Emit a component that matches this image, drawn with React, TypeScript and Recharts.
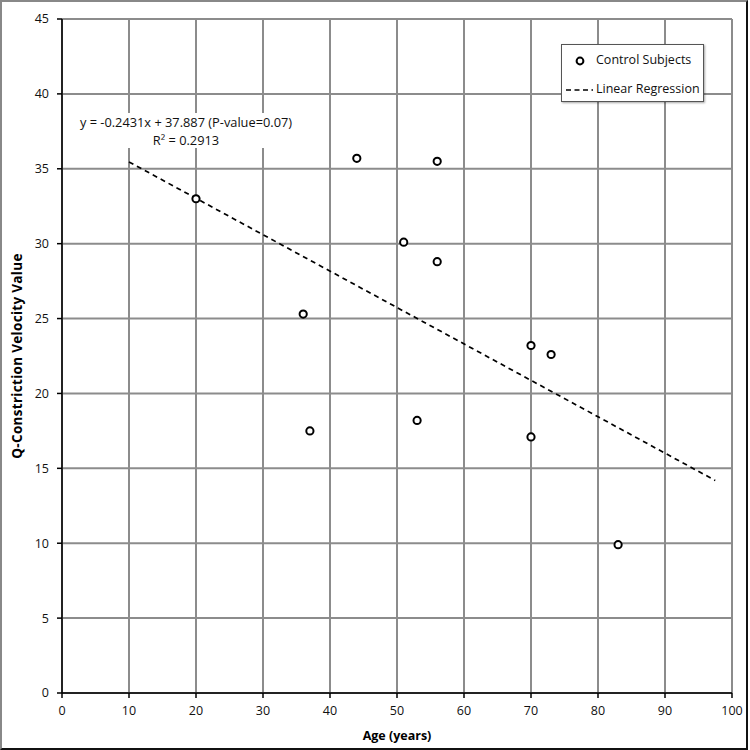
import { ScatterChart, Scatter, XAxis, YAxis, CartesianGrid } from 'recharts';

const ages = [20, 36, 37, 44, 51, 53, 56, 56, 70, 70, 73, 83];
const velocity = [33.0, 25.3, 17.5, 35.7, 30.1, 18.2, 35.5, 28.8, 23.2, 17.1, 22.6, 9.9];

// regression line end points
const fitAges = [10, 97.5];
const fitValues = [35.46, 14.19];

const xTicks = [0, 10, 20, 30, 40, 50, 60, 70, 80, 90, 100];
const yTicks = [0, 5, 10, 15, 20, 25, 30, 35, 40, 45];

const equationText = 'y = -0.2431x + 37.887 (P-value=0.07)';
const rSquaredText = 'R² = 0.2913';

const FONT = '"Open Sans", "Liberation Sans", sans-serif';

const subjects = ages.map((a, i) => ({ x: a, y: velocity[i] }));
const fit = fitAges.map((a, i) => ({ x: a, y: fitValues[i] }));

const Ring = (props: any) => {
  const { cx, cy } = props;
  return <circle cx={cx} cy={cy} r={3.6} fill="#fff" stroke="#000" strokeWidth={2} />;
};

const NoMark = () => <g />;

function LegendBox() {
  return (
    <div
      style={{
        position: 'absolute',
        left: 561,
        top: 44,
        width: 143,
        height: 58,
        boxSizing: 'border-box',
        border: '1px solid #555',
        boxShadow: '1px 1px 2px rgba(0,0,0,0.35)',
        background: '#fff',
        fontFamily: FONT,
        fontSize: 12.5,
        color: '#111',
      }}
    >
      <svg width={32} height={57} style={{ position: 'absolute', left: 2, top: 0 }}>
        <circle cx={16} cy={16} r={3.4} fill="#fff" stroke="#000" strokeWidth={2} />
        <line x1={2} y1={45} x2={29} y2={45} stroke="#000" strokeWidth={1.7} strokeDasharray="5 3.5" />
      </svg>
      <div style={{ position: 'absolute', left: 34, top: 6, whiteSpace: 'nowrap' }}>Control Subjects</div>
      <div style={{ position: 'absolute', left: 34, top: 35, whiteSpace: 'nowrap' }}>Linear Regression</div>
    </div>
  );
}

export default function App() {
  return (
    <div style={{ position: 'absolute', left: 0, top: 0, width: 750, height: 750, background: '#fff' }}>
      <div
        style={{
          position: 'absolute',
          left: 0,
          top: 0,
          width: 748,
          height: 750,
          boxSizing: 'border-box',
          borderLeft: '2px solid #888',
          borderTop: '2px solid #888',
          borderRight: '2px solid #111',
          borderBottom: '2px solid #111',
        }}
      />
      <div style={{ position: 'absolute', left: 0, top: 0 }}>
        <ScatterChart width={750} height={750} margin={{ top: 19, right: 18, bottom: 0, left: 0 }}>
          <CartesianGrid stroke="#8c8c8c" strokeWidth={2} horizontalValues={yTicks} verticalValues={xTicks} />
          <XAxis
            type="number"
            dataKey="x"
            domain={[0, 100]}
            ticks={xTicks}
            height={57}
            interval={0}
            stroke="#000"
            strokeWidth={1.5}
            tickSize={5}
            tickMargin={8}
            tick={{ fill: '#111', fontSize: 12.5, fontFamily: FONT }}
            label={{
              value: 'Age (years)',
              position: 'insideBottom',
              offset: 10,
              fill: '#000',
              fontSize: 12.5,
              fontWeight: 'bold',
              fontFamily: FONT,
            }}
          />
          <YAxis
            type="number"
            dataKey="y"
            domain={[0, 45]}
            ticks={yTicks}
            width={62}
            interval={0}
            stroke="#000"
            strokeWidth={1.5}
            tickSize={5}
            tickMargin={8}
            tick={{ fill: '#111', fontSize: 12.5, fontFamily: FONT }}
            label={{
              value: 'Q-Constriction Velocity Value',
              angle: -90,
              position: 'insideLeft',
              offset: 17,
              style: { textAnchor: 'middle', letterSpacing: '0.3px' },
              fill: '#000',
              fontSize: 13.5,
              fontWeight: 'bold',
              fontFamily: FONT,
            }}
          />
          <Scatter
            name="Linear Regression"
            data={fit}
            line={{ stroke: '#000', strokeWidth: 1.7, strokeDasharray: '5 4' }}
            shape={NoMark}
            isAnimationActive={false}
          />
          <Scatter name="Control Subjects" data={subjects} shape={Ring} isAnimationActive={false} />
        </ScatterChart>
      </div>
      <LegendBox />
      <div
        style={{
          position: 'absolute',
          left: 73,
          top: 113,
          width: 226,
          height: 35,
          background: '#fff',
          fontFamily: FONT,
          fontSize: 12.8,
          color: '#111',
          textAlign: 'center',
          lineHeight: '18px',
          whiteSpace: 'nowrap',
        }}
      >
        <div>{equationText}</div>
        <div>{rSquaredText}</div>
      </div>
    </div>
  );
}
